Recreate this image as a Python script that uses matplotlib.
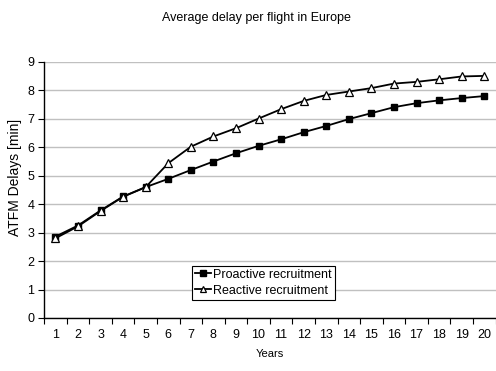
import matplotlib.pyplot as plt
import numpy as np

plt.rcParams['font.family'] = ['Liberation Sans', 'DejaVu Sans']

years = list(range(1, 21))
proactive = [2.86, 3.25, 3.78, 4.27, 4.6, 4.89, 5.2, 5.5, 5.79, 6.05,
             6.28, 6.53, 6.75, 6.99, 7.2, 7.41, 7.55, 7.65, 7.73, 7.8]
reactive = [2.8, 3.22, 3.76, 4.26, 4.6, 5.44, 6.02, 6.38, 6.67, 7.01,
            7.34, 7.63, 7.84, 7.96, 8.08, 8.24, 8.3, 8.39, 8.49, 8.51]

fig = plt.figure(figsize=(4.96, 3.71), dpi=100)
ax = fig.add_axes([0.089, 0.143, 0.91, 0.69])

ax.plot(years, proactive, color='black', lw=1.3, marker='s', ms=5,
        mfc='black', mec='black', label='Proactive recruitment', clip_on=False)
ax.plot(years, reactive, color='black', lw=1.3, marker='^', ms=6,
        mfc='white', mec='black', mew=0.9, label='Reactive recruitment', clip_on=False)

ax.set_xlim(0.5, 20.5)
ax.set_ylim(0, 9)
ax.set_yticks(range(0, 10))
ax.set_xticks(years)
ax.set_xticks(np.arange(0.5, 21, 1), minor=True)
ax.tick_params(axis='x', which='major', length=0, pad=8, labelsize=9)
ax.tick_params(axis='x', which='minor', length=4, width=0.8, direction='out')
ax.tick_params(axis='y', length=4, width=0.8, labelsize=9, pad=3)

ax.grid(axis='y', color='#c0c0c0', lw=1)
ax.set_axisbelow(True)
for s in ['top', 'right']:
    ax.spines[s].set_visible(False)
ax.spines['left'].set_linewidth(1)
ax.spines['bottom'].set_linewidth(1)

ax.set_xlabel('Years', fontsize=8, labelpad=6)
ax.set_ylabel('ATFM Delays [min]', fontsize=10)
ax.yaxis.set_label_coords(-0.05, 0.547)
fig.suptitle('Average delay per flight in Europe', fontsize=9, y=0.967, x=0.518)

leg = ax.legend(loc='center', bbox_to_anchor=(0.531, 0.238),
                bbox_transform=fig.transFigure, fontsize=9, frameon=True,
                fancybox=False, edgecolor='black', framealpha=1,
                handlelength=1.3, handletextpad=0.2, borderpad=0.25,
                labelspacing=0.3, borderaxespad=0, markerscale=0.75)
leg.get_frame().set_linewidth(0.8)

fig.savefig('out.png', dpi=100)
